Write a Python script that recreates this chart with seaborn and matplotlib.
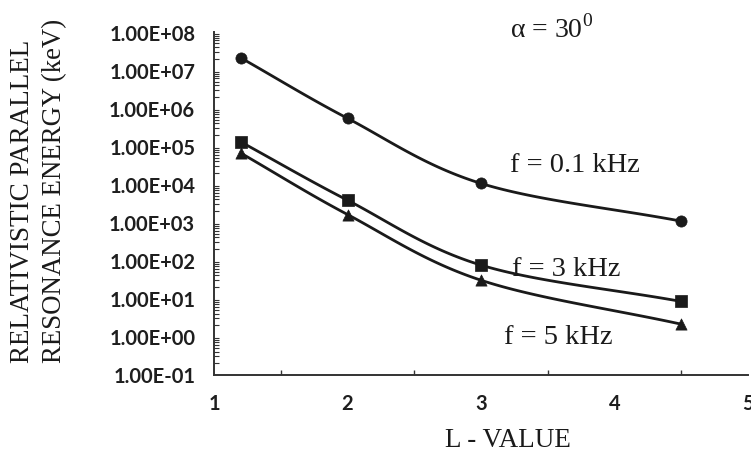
import numpy as np
import pandas as pd
import seaborn as sns
import matplotlib
matplotlib.use("Agg")
import matplotlib.pyplot as plt
from matplotlib.ticker import FuncFormatter, LogLocator, MultipleLocator, FixedLocator

# ---- data ----
L_values = [1.2, 2.0, 3.0, 4.5]
energy_01kHz = [2.1e7, 5.4e5, 1.05e4, 1.07e3]
energy_3kHz = [1.3e5, 3.8e3, 75.0, 8.3]
energy_5kHz = [6.6e4, 1.6e3, 30.0, 2.1]
series_labels = ["f = 0.1 kHz", "f = 3 kHz", "f = 5 kHz"]
series_markers = ["o", "s", "^"]
y_ticks = [1e-1, 1e0, 1e1, 1e2, 1e3, 1e4, 1e5, 1e6, 1e7, 1e8]
x_ticks = [1, 2, 3, 4, 5]

sns.set_theme(style="white")
plt.rcParams['font.family'] = ['DejaVu Sans']


def smooth(xs, ys, n=40):
    """Catmull-Rom spline through the points, in (x, log10 y) space (display smoothing only)."""
    x = np.asarray(xs, float)
    y = np.log10(np.asarray(ys, float))
    px = np.concatenate([[2 * x[0] - x[1]], x, [2 * x[-1] - x[-2]]])
    py = np.concatenate([[2 * y[0] - y[1]], y, [2 * y[-1] - y[-2]]])
    ox, oy = [], []
    for i in range(1, len(px) - 2):
        t = np.linspace(0, 1, n, endpoint=(i == len(px) - 3))
        for P, out in ((px, ox), (py, oy)):
            p0, p1, p2, p3 = P[i - 1], P[i], P[i + 1], P[i + 2]
            out.extend(0.5 * ((2 * p1) + (-p0 + p2) * t +
                              (2 * p0 - 5 * p1 + 4 * p2 - p3) * t ** 2 +
                              (-p0 + 3 * p1 - 3 * p2 + p3) * t ** 3))
    return np.array(ox), 10 ** np.array(oy)


fig = plt.figure(figsize=(7.51, 4.56), dpi=100)
ax = fig.add_axes([214 / 751, 1 - 375.5 / 456, (748 - 214) / 751, (375.5 - 33) / 456])

line_color = "#1a1a1a"
for vals, lab, mk in zip([energy_01kHz, energy_3kHz, energy_5kHz], series_labels, series_markers):
    sx, sy = smooth(L_values, vals)
    sns.lineplot(x=sx, y=sy, ax=ax, color=line_color, linewidth=2.0, sort=False,
                 estimator=None, legend=False)
    df = pd.DataFrame({"L": L_values, "E": vals})
    sns.scatterplot(data=df, x="L", y="E", ax=ax, color=line_color, marker=mk,
                    s=65, edgecolor=line_color, linewidth=0.5, legend=False, zorder=5)

ax.set_yscale("log")
ax.set_xlim(1, 5)
ax.set_ylim(1e-1, 1e8)
ax.yaxis.set_major_locator(FixedLocator(y_ticks))
ax.yaxis.set_minor_locator(LogLocator(base=10, subs=np.arange(2, 10), numticks=100))
ax.yaxis.set_major_formatter(FuncFormatter(lambda v, p: "{:.2E}".format(v)))
ax.xaxis.set_major_locator(FixedLocator(x_ticks))
ax.xaxis.set_minor_locator(MultipleLocator(0.5))
ax.set_xlabel("")
ax.set_ylabel("")

for s in ["top", "right"]:
    ax.spines[s].set_visible(False)
for s in ["left", "bottom"]:
    ax.spines[s].set_color("#333333")
    ax.spines[s].set_linewidth(1.4)

ax.tick_params(axis="y", which="major", direction="inout", length=9, width=1.2,
               color="#333333", pad=9)
ax.tick_params(axis="y", which="minor", direction="in", length=3.5, width=0.8,
               color="#333333", left=True)
ax.tick_params(axis="x", which="major", direction="inout", length=10, width=1.2,
               color="#333333", pad=8)
ax.tick_params(axis="x", which="minor", direction="in", length=3.5, width=1.0,
               color="#333333", bottom=True)
for lbl in ax.get_yticklabels() + ax.get_xticklabels():
    lbl.set_fontfamily("Lato")
    lbl.set_fontweight("bold")
    lbl.set_fontsize(14.5)
    lbl.set_color("#1e1e1e")

serif = "Liberation Serif"
txt_color = "#1a1a1a"
fig.text(510 / 751, 1 - 38 / 456, r"$\mathregular{\alpha}$ = 30$^{\mathregular{0}}$",
         family=serif, fontsize=20, ha="left", va="baseline", color=txt_color)
fig.text(510 / 751, 1 - 172 / 456, series_labels[0], family=serif, fontsize=20.5,
         ha="left", va="baseline", color=txt_color)
fig.text(512 / 751, 1 - 276 / 456, series_labels[1], family=serif, fontsize=20.5,
         ha="left", va="baseline", color=txt_color)
fig.text(504 / 751, 1 - 344 / 456, series_labels[2], family=serif, fontsize=20.5,
         ha="left", va="baseline", color=txt_color)

fig.text(23 / 751, 1 - 363 / 456, "RELATIVISTIC PARALLEL", family=serif, fontsize=19.5,
         rotation=90, ha="center", va="bottom", color=txt_color)
fig.text(55 / 751, 1 - 363 / 456, "RESONANCE ENERGY (keV)", family=serif, fontsize=19.3,
         rotation=90, ha="center", va="bottom", color=txt_color)
fig.text(508 / 751, 1 - 441 / 456, "L - VALUE", family=serif, fontsize=19.5,
         ha="center", va="center", color=txt_color)

fig.savefig("out.png", dpi=100)
